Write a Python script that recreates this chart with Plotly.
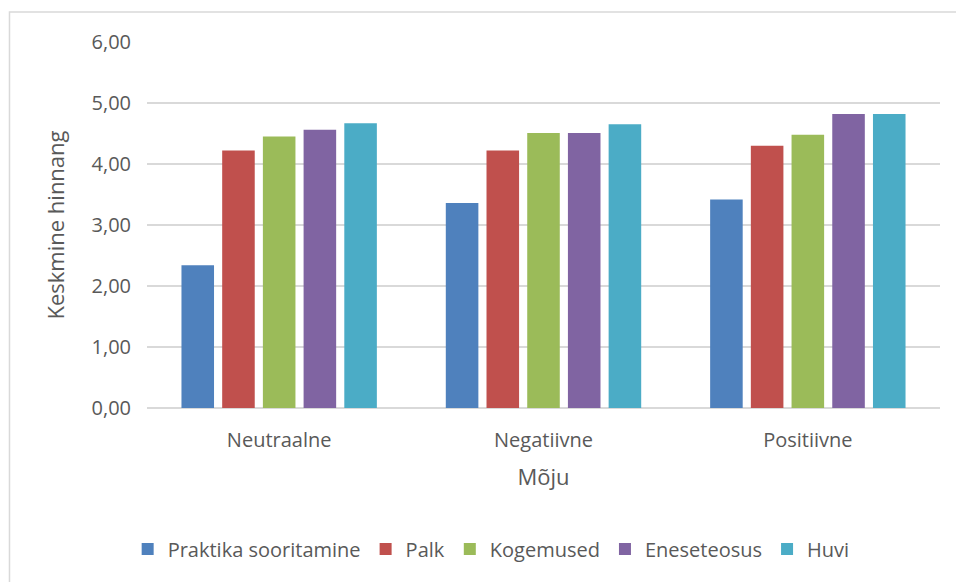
import plotly.graph_objects as go

categories = ["Neutraalne", "Negatiivne", "Positiivne"]
series_names = ["Praktika sooritamine", "Palk", "Kogemused", "Eneseteosus", "Huvi"]
praktika = [2.34, 3.36, 3.42]
palk = [4.22, 4.22, 4.30]
kogemused = [4.45, 4.51, 4.48]
eneseteosus = [4.56, 4.51, 4.82]
huvi = [4.67, 4.65, 4.82]
colors = ["#4F81BD", "#C0504D", "#9BBB59", "#8064A2", "#4BACC6"]
y_ticks = [0, 1, 2, 3, 4, 5, 6]

values = [praktika, palk, kogemused, eneseteosus, huvi]

fig = go.Figure()
for name, vals, col in zip(series_names, values, colors):
    fig.add_trace(go.Bar(x=categories, y=vals, name=name, marker_color=col,
                         marker_line_width=0))

font_family = "'Open Sans', 'Noto Sans', sans-serif"
grey = "#595959"

fig.update_layout(
    width=956, height=582,
    margin=dict(l=147, r=16, t=42, b=174),
    plot_bgcolor="white", paper_bgcolor="white",
    separators=", ",
    barmode="group", bargap=0.23, bargroupgap=0.2,
    font=dict(family=font_family, color=grey, size=20),
    showlegend=True,
    legend=dict(orientation="h", x=0.434, xanchor="center", y=-0.385, yanchor="middle",
                font=dict(size=20, color=grey), itemwidth=30, traceorder="normal"),
    xaxis=dict(showgrid=False, showline=False, ticks="", ticklabelstandoff=18,
               tickfont=dict(size=20, color=grey),
               title=dict(text="Mõju", font=dict(size=22, color=grey), standoff=17)),
    yaxis=dict(range=[0, 6], tickvals=y_ticks, tickformat=".2f",
               showgrid=True, gridcolor="#D9D9D9", gridwidth=1.5,
               zeroline=True, zerolinecolor="#D9D9D9", zerolinewidth=1.5,
               showline=False, ticks="", ticklabelstandoff=15,
               tickfont=dict(size=20, color=grey),
               title=dict(text="Keskmine hinnang", font=dict(size=22, color=grey), standoff=20)),
    shapes=[dict(type="rect", xref="paper", yref="paper",
                 x0=-0.1734, x1=1.03, y0=-0.5, y1=1.082,
                 line=dict(color="#D9D9D9", width=1.5), fillcolor="rgba(0,0,0,0)", layer="below")],
)

fig.write_html("out.html", config={"displayModeBar": False},
               post_script="document.body.style.margin='0px';")
